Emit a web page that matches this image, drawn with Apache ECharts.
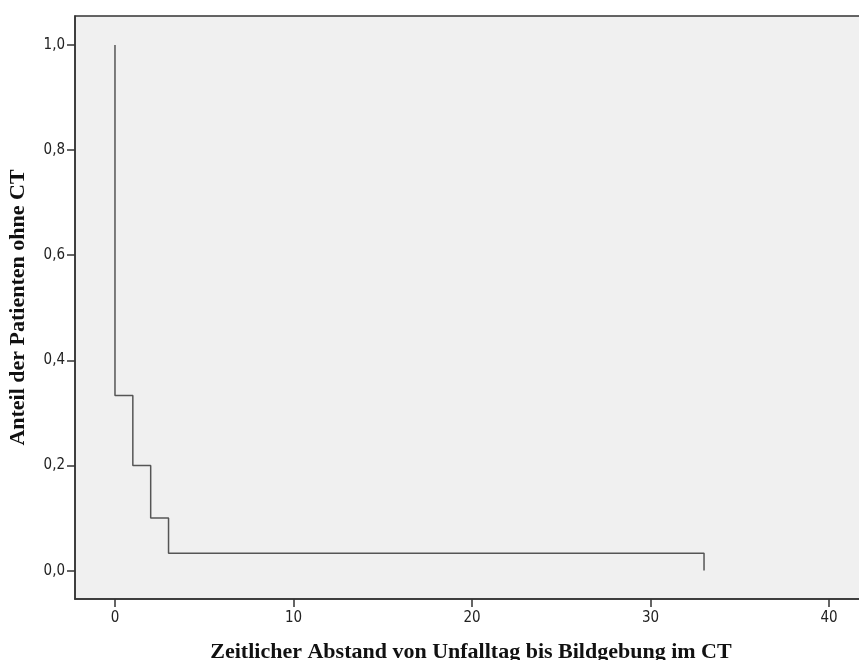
<!DOCTYPE html>
<html>
<head>
<meta charset="utf-8">
<script src="https://cdn.jsdelivr.net/npm/echarts@6/dist/echarts.min.js"></script>
<style>html,body{margin:0;padding:0;background:#fff;}#c{width:859px;height:660px;}</style>
</head>
<body>
<div id="c"></div>
<script>
// Kaplan-Meier step data
var times = [0, 0, 1, 2, 3, 33];
var survival = [1.0, 0.333, 0.2, 0.1, 0.033, 0.0];
var xTicks = [0, 10, 20, 30, 40];
var yTicks = [0, 0.2, 0.4, 0.6, 0.8, 1.0];
var xTitle = 'Zeitlicher Abstand von Unfalltag bis Bildgebung im CT';
var yTitle = 'Anteil der Patienten ohne CT';

var pts = times.map(function (t, i) { return [t, survival[i]]; });

var chart = echarts.init(document.getElementById('c'), null, {renderer: 'canvas'});
var axisLine = {show: true, onZero: false, lineStyle: {color: '#333', width: 1.5}};
var tick = {show: true, inside: false, length: 8, lineStyle: {color: '#333', width: 1.5}};
var labelStyle = {color: '#222', fontSize: 15, fontFamily: 'DejaVu Sans Condensed, Liberation Sans, sans-serif'};
chart.setOption({
  animation: false,
  backgroundColor: '#fff',
  grid: {left: 75, top: 16, width: 792, height: 583, outerBoundsMode: 'none', containLabel: false,
         show: true, backgroundColor: '#f0f0f0', borderColor: '#333', borderWidth: 1.5},
  xAxis: {
    type: 'value', min: -2.24, max: 42.13,
    axisLine: axisLine,
    axisTick: Object.assign({customValues: xTicks}, tick),
    axisLabel: Object.assign({customValues: xTicks, margin: 12}, labelStyle),
    splitLine: {show: false},
    name: xTitle, nameLocation: 'middle', nameGap: 42,
    nameTextStyle: {fontFamily: 'Liberation Serif, serif', fontWeight: 'bold', fontSize: 22, color: '#111'}
  },
  yAxis: {
    type: 'value', min: -0.054, max: 1.055,
    axisLine: axisLine,
    axisTick: Object.assign({customValues: yTicks}, tick),
    axisLabel: Object.assign({customValues: yTicks, margin: 10, formatter: function (v) { return v.toFixed(1).replace('.', ','); }}, labelStyle),
    splitLine: {show: false},
    name: yTitle, nameLocation: 'middle', nameGap: 46, nameRotate: 90,
    nameTextStyle: {fontFamily: 'Liberation Serif, serif', fontWeight: 'bold', fontSize: 22, color: '#111'}
  },
  series: [{
    type: 'line', step: 'end', data: pts, symbol: 'none',
    lineStyle: {color: '#555', width: 1.5}
  }]
});
</script>
</body>
</html>
